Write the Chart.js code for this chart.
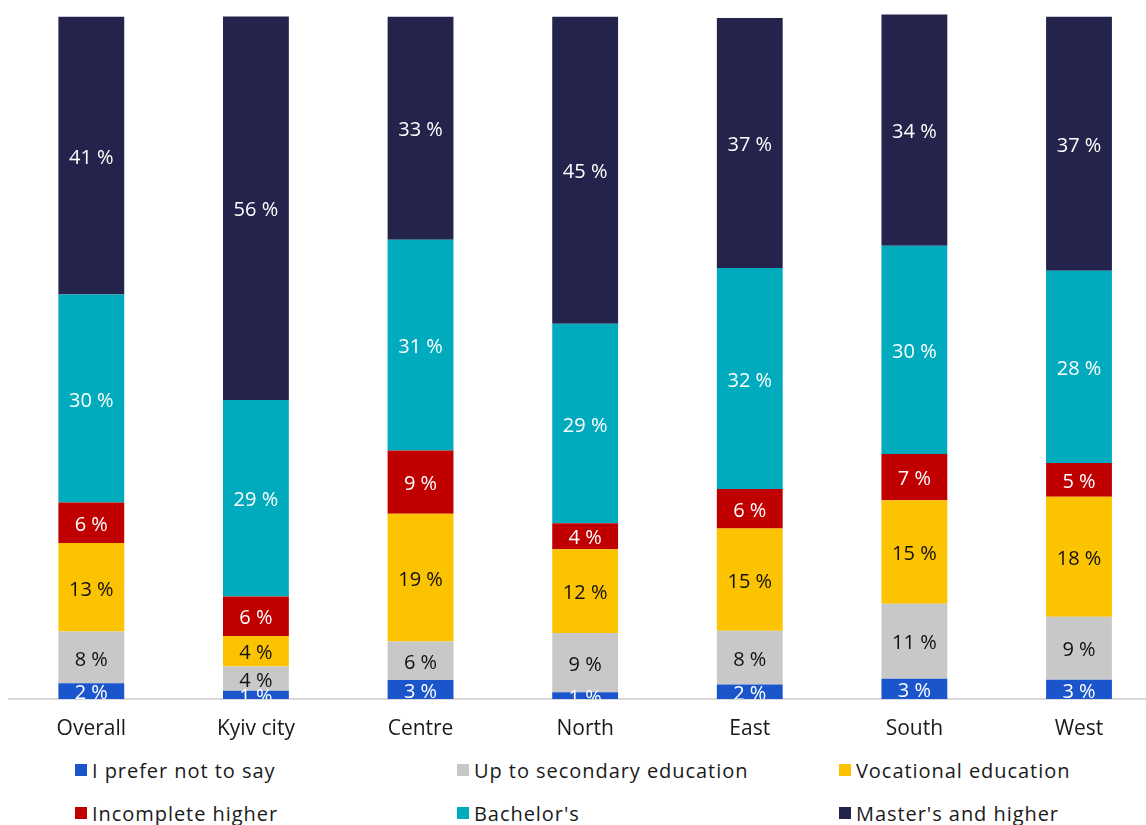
<!DOCTYPE html>
<html>
<head>
<meta charset="utf-8">
<script src="https://cdn.jsdelivr.net/npm/chart.js@4"></script>
<style>
  html, body { margin: 0; padding: 0; background: #fff; overflow: hidden; }
  body { width: 1146px; height: 825px; position: relative; font-family: "Open Sans", "Noto Sans", sans-serif; }
  #wrap { position: absolute; left: 0; top: 0; width: 1170px; height: 750px; }
  #legend {
    position: absolute; left: 75px; top: 758px;
    display: grid; grid-template-columns: 382px 382px 300px; grid-auto-rows: 43px;
    font-size: 20px; color: #1a1a1a; letter-spacing: 0.95px;
  }
  .item { display: flex; align-items: center; height: 24px; white-space: nowrap; }
  .box { width: 12px; height: 12px; margin-right: 5px; flex: none; }
</style>
</head>
<body>
<div id="wrap"><canvas id="grafico" width="1170" height="750"></canvas></div>
<div id="legend"></div>
<script>
// Regiones
const categorias = ['Overall', 'Kyiv city', 'Centre', 'North', 'East', 'South', 'West'];

// Valores en %
const noDice      = [2.3, 1.19, 2.77, 0.98, 2.11, 2.96, 2.83];
const secundaria  = [7.57, 3.56, 5.65, 8.7, 7.89, 11.0, 9.22];
const vocacional  = [12.97, 4.47, 18.7, 12.24, 14.95, 15.14, 17.57];
const incompleta  = [5.92, 5.8, 9.28, 3.82, 5.78, 6.78, 4.93];
const bachelor    = [30.48, 28.76, 30.86, 29.2, 32.39, 30.47, 28.17];
const master      = [40.67, 56.15, 32.65, 44.96, 36.59, 33.89, 37.19];

const series = [
  { label: 'I prefer not to say', data: noDice, color: '#1b55cc', texto: '#ffffff' },
  { label: 'Up to secondary education', data: secundaria, color: '#c8c8c8', texto: '#111111' },
  { label: 'Vocational education', data: vocacional, color: '#fcc300', texto: '#111111' },
  { label: 'Incomplete higher', data: incompleta, color: '#c00000', texto: '#ffffff' },
  { label: "Bachelor's", data: bachelor, color: '#00abbd', texto: '#ffffff' },
  { label: "Master's and higher", data: master, color: '#24234b', texto: '#ffffff' }
];

// Etiquetas dentro de cada segmento
const etiquetas = {
  id: 'etiquetas',
  afterDatasetsDraw(chart) {
    const { ctx, chartArea } = chart;
    ctx.save();
    ctx.beginPath();
    ctx.rect(chartArea.left, chartArea.top - 10, chartArea.right - chartArea.left, chartArea.bottom - chartArea.top + 10);
    ctx.clip();
    ctx.font = '20px "Open Sans"';
    ctx.textAlign = 'center';
    ctx.textBaseline = 'middle';
    chart.data.datasets.forEach((ds, i) => {
      const meta = chart.getDatasetMeta(i);
      meta.data.forEach((bar, j) => {
        ctx.fillStyle = series[i].texto;
        const y = (bar.y + bar.base) / 2 + 2.5;
        ctx.fillText(Math.round(ds.data[j]) + ' %', bar.x, y);
      });
    });
    ctx.restore();
  }
};

const ctx = document.getElementById('grafico').getContext('2d');
const chart = new Chart(ctx, {
  type: 'bar',
  data: {
    labels: categorias,
    datasets: series.map(s => ({
      label: s.label,
      data: s.data,
      backgroundColor: s.color,
      borderWidth: 0,
      barPercentage: 0.4,
      categoryPercentage: 1
    }))
  },
  options: {
    responsive: false,
    animation: false,
    layout: { padding: { left: 9, right: 8.7, top: 9.2, bottom: 0 } },
    plugins: { legend: { display: false }, tooltip: { enabled: false } },
    scales: {
      x: {
        stacked: true,
        grid: { display: false, drawTicks: false },
        border: { display: true, color: '#d9d9d9', width: 2 },
        ticks: { color: '#1a1a1a', font: { family: 'Open Sans', size: 21 }, padding: 17 },
        afterFit: (scale) => { scale.height = 51; }
      },
      y: {
        stacked: true,
        display: false,
        min: 0,
        max: 101
      }
    }
  },
  plugins: [etiquetas]
});

// Leyenda en tres columnas
const leyenda = document.getElementById('legend');
series.forEach(s => {
  const item = document.createElement('div');
  item.className = 'item';
  item.innerHTML = '<span class="box" style="background:' + s.color + '"></span><span>' + s.label + '</span>';
  leyenda.appendChild(item);
});
</script>
</body>
</html>
